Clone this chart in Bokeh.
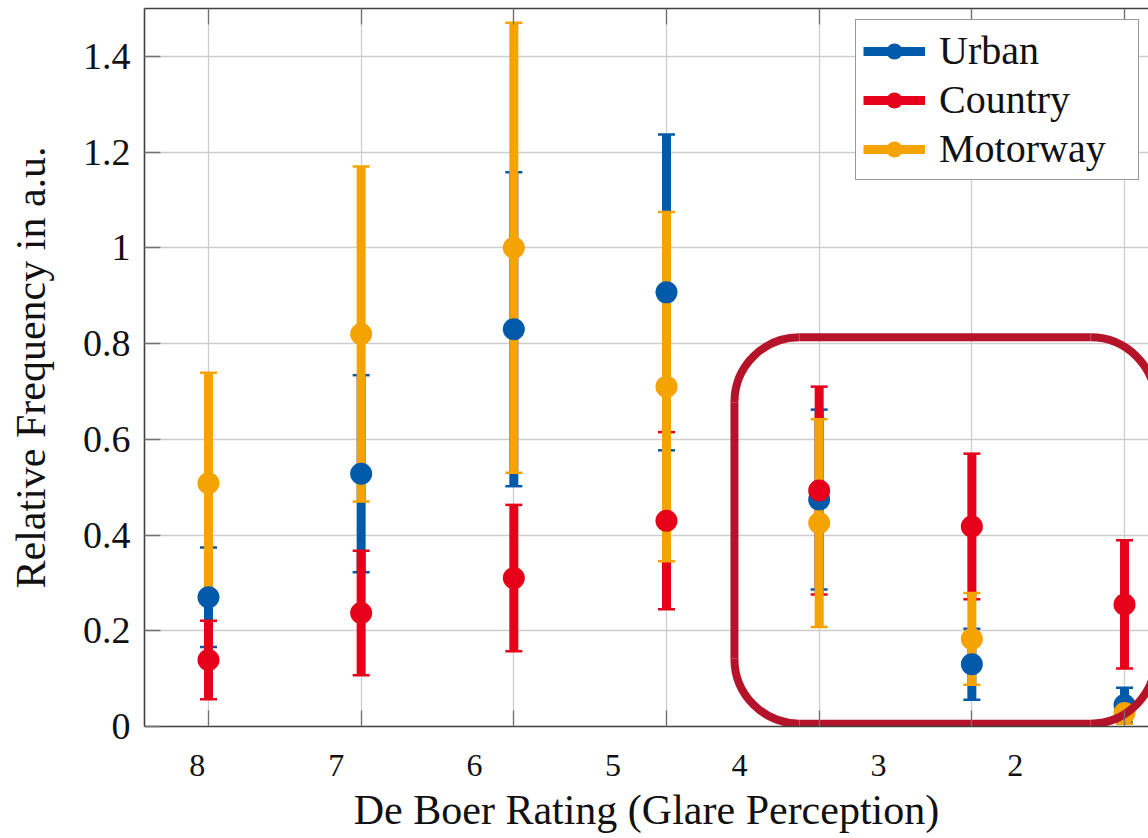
from bokeh.plotting import figure
from bokeh.models import (Range1d, LinearAxis, FixedTicker, Legend, LegendItem,
                          ColumnDataSource)
from bokeh.embed import file_html
from bokeh.resources import INLINE

# ---------------- data ----------------
slot_x = [0, 1, 2, 3, 4, 5, 6]                      # positions of the measured points (grid lines)
rating_labels = ["8", "7", "6", "5", "4", "3", "2"]  # De Boer rating tick labels
rating_label_x = [-0.074, 0.837, 1.742, 2.650, 3.478, 4.388, 5.285]

urban_mean = [0.270, 0.528, 0.830, 0.907, 0.474, 0.130, 0.045]
urban_err = [0.104, 0.206, 0.328, 0.330, 0.188, 0.074, 0.036]
country_mean = [0.139, 0.237, 0.310, 0.430, 0.493, 0.418, 0.255]
country_err = [0.082, 0.130, 0.153, 0.185, 0.217, 0.152, 0.134]
motorway_mean = [0.508, 0.820, 1.000, 0.710, 0.425, 0.183, 0.028]
motorway_err = [0.231, 0.350, 0.470, 0.365, 0.217, 0.096, 0.022]

y_ticks = [0, 0.2, 0.4, 0.6, 0.8, 1, 1.2, 1.4]
y_tick_labels = ["0", "0.2", "0.4", "0.6", "0.8", "1", "1.2", "1.4"]

# highlighted region (data units) around the low ratings
hl_left, hl_right, hl_bottom, hl_top = 3.445, 6.203, 0.006, 0.813

series = [
    ("Urban", urban_mean, urban_err, "#005AA9"),
    ("Country", country_mean, country_err, "#E6001A"),
    ("Motorway", motorway_mean, motorway_err, "#F5A300"),
]

FONT = "Liberation Serif"
AX = "#404040"
GRID = "#cdcdcd"
X0, X1, Y0, Y1 = -0.419, 6.157, 0, 1.5
W, H, BL, BB, BT = 1148, 838, 144, 112, 8

p = figure(width=W, height=H, output_backend="svg", toolbar_location=None,
           x_range=Range1d(X0, X1), y_range=Range1d(Y0, Y1),
           x_axis_location=None, y_axis_location=None,
           min_border_left=BL, min_border_right=0, min_border_top=BT, min_border_bottom=BB)
p.outline_line_color = None
p.background_fill_color = "white"

# grid
p.xgrid.ticker = FixedTicker(ticks=slot_x)
p.ygrid.ticker = FixedTicker(ticks=y_ticks)
for g in (p.xgrid, p.ygrid):
    g.grid_line_color = GRID
    g.grid_line_width = 1.3

# bottom axis: labels at rating positions, tick marks at grid positions
xb = LinearAxis(ticker=FixedTicker(ticks=rating_label_x, minor_ticks=slot_x))
xb.major_label_overrides = {x: l for x, l in zip(rating_label_x, rating_labels)}
xb.major_tick_in = 0
xb.major_tick_out = 0
xb.minor_tick_in = 16
xb.minor_tick_out = 0
xb.minor_tick_line_color = "#707070"
xb.minor_tick_line_width = 1.3
xb.axis_line_color = AX
xb.axis_line_width = 1.6
xb.major_label_text_font = FONT
xb.major_label_text_font_size = "32px"
xb.major_label_text_color = "#111111"
xb.major_label_standoff = 28
xb.axis_label = "De Boer Rating (Glare Perception)"
xb.axis_label_text_font = FONT
xb.axis_label_text_font_size = "42px"
xb.axis_label_text_font_style = "normal"
xb.axis_label_text_color = "#111111"
xb.axis_label_standoff = 8
p.add_layout(xb, "below")

# left axis
yl = LinearAxis(ticker=FixedTicker(ticks=y_ticks))
yl.major_label_overrides = {t: l for t, l in zip(y_ticks, y_tick_labels)}
yl.major_tick_in = 16
yl.major_tick_out = 0
yl.major_tick_line_color = "#707070"
yl.major_tick_line_width = 1.3
yl.minor_tick_line_color = None
yl.axis_line_color = AX
yl.axis_line_width = 1.6
yl.major_label_text_font = FONT
yl.major_label_text_font_size = "38px"
yl.major_label_text_color = "#111111"
yl.major_label_standoff = 14
yl.axis_label = "Relative Frequency in a.u."
yl.axis_label_text_font = FONT
yl.axis_label_text_font_size = "42px"
yl.axis_label_text_font_style = "normal"
yl.axis_label_text_color = "#111111"
yl.axis_label_standoff = 26
p.add_layout(yl, "left")

# top axis: line + inward ticks only
xt = LinearAxis(ticker=FixedTicker(ticks=slot_x))
xt.major_label_overrides = {x: "" for x in slot_x}
xt.major_label_text_font_size = "0px"
xt.major_label_standoff = 0
xt.major_tick_in = 16
xt.major_tick_out = 0
xt.major_tick_line_color = "#707070"
xt.major_tick_line_width = 1.3
xt.minor_tick_line_color = None
xt.axis_line_color = AX
xt.axis_line_width = 1.6
p.add_layout(xt, "above")

# error bars (all series) first, then the markers
seg_r = {}
for name, mean, err, col in series:
    src = ColumnDataSource(dict(x=slot_x, lo=[m - e for m, e in zip(mean, err)],
                                hi=[m + e for m, e in zip(mean, err)]))
    seg_r[name] = p.segment(x0="x", y0="lo", x1="x", y1="hi", source=src,
                            line_color=col, line_width=9)
    p.scatter(x="x", y="lo", source=src, marker="dash", size=17, line_color=col, line_width=2.5)
    p.scatter(x="x", y="hi", source=src, marker="dash", size=17, line_color=col, line_width=2.5)

dot_r = {}
for name, mean, err, col in series:
    dot_r[name] = p.scatter(x=slot_x, y=mean, marker="circle", size=22,
                            fill_color=col, line_color=col, line_width=0)

# rounded highlight frame (corner radius in screen pixels)
R_PX = 65
fw, fh = W - BL, H - BB - BT
rx = R_PX * (X1 - X0) / fw
ry = R_PX * (Y1 - Y0) / fh
HL_COL, HL_W = "#B5132A", 8
p.segment(x0=[hl_left + rx, hl_left + rx, hl_left, hl_right],
          y0=[hl_top, hl_bottom, hl_bottom + ry, hl_bottom + ry],
          x1=[hl_right - rx, hl_right - rx, hl_left, hl_right],
          y1=[hl_top, hl_bottom, hl_top - ry, hl_top - ry],
          line_color=HL_COL, line_width=HL_W)
p.arc(x=[hl_left + rx, hl_left + rx, hl_right - rx, hl_right - rx],
      y=[hl_top - ry, hl_bottom + ry, hl_top - ry, hl_bottom + ry],
      radius=R_PX, radius_units="screen",
      start_angle=[90, 180, 0, 270], end_angle=[180, 270, 90, 360],
      start_angle_units="deg", end_angle_units="deg",
      line_color=HL_COL, line_width=HL_W)

legend = Legend(items=[LegendItem(label=name, renderers=[seg_r[name], dot_r[name]])
                       for name, *_ in series],
                location=(711, 546))
legend.label_text_font = FONT
legend.label_text_font_size = "40px"
legend.label_text_color = "#111111"
legend.glyph_width = 62
legend.glyph_height = 40
legend.label_standoff = 14
legend.label_height = 40
legend.label_width = 192
legend.padding = 7
legend.spacing = 2
legend.margin = 0
legend.border_line_color = "#333333"
legend.border_line_width = 1.5
legend.background_fill_alpha = 1
p.add_layout(legend)

open("out.html", "w").write(file_html(p, INLINE))
